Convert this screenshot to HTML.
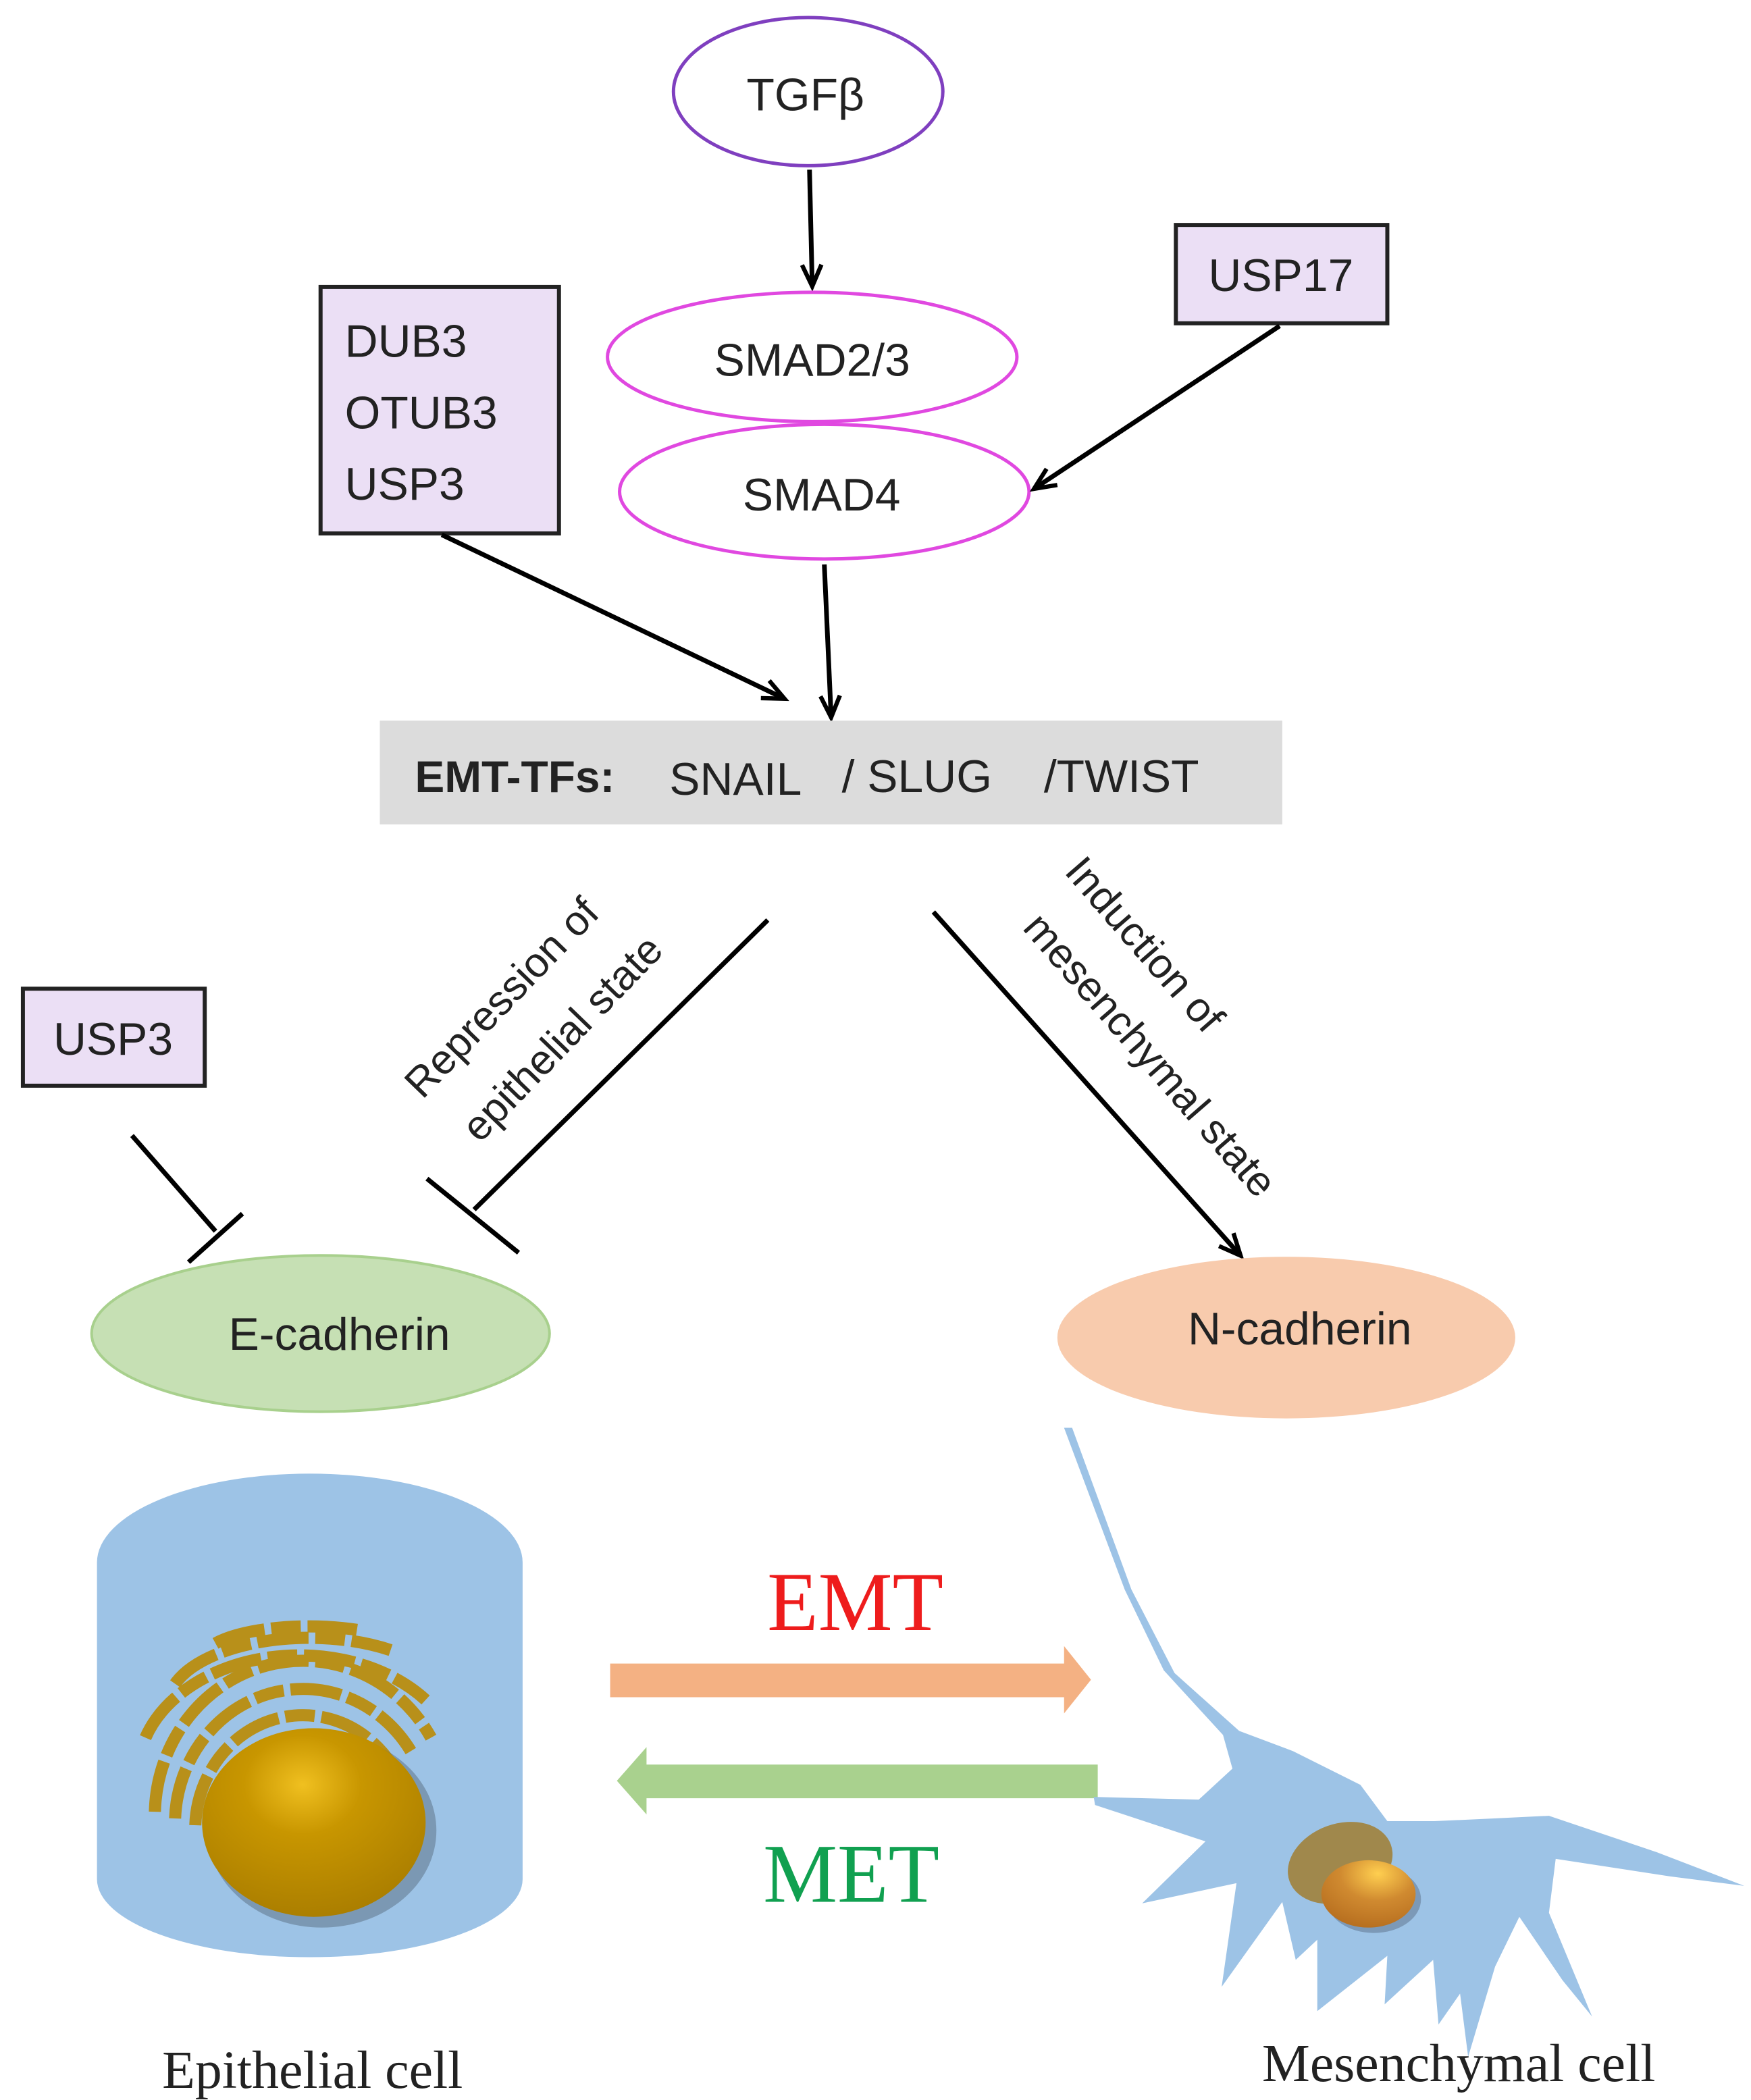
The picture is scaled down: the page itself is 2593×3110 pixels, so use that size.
<!DOCTYPE html>
<html><head><meta charset="utf-8"><style>
html,body{margin:0;padding:0;background:#fff}
svg{display:block}
text{font-family:"Liberation Sans",sans-serif}
.s{font-family:"Liberation Serif",serif}
</style></head><body>
<svg width="2593" height="3110" viewBox="0 0 1300 1559" preserveAspectRatio="none" xmlns="http://www.w3.org/2000/svg">
<defs>
<marker id="ah" viewBox="0 0 10 10" refX="9" refY="5" markerWidth="16" markerHeight="16" orient="auto" markerUnits="userSpaceOnUse" style="overflow:visible">
<path d="M0,0.5 L10,5 L0,9.5" fill="none" stroke="#000" stroke-width="2"/>
</marker>
<radialGradient id="nuc" cx="0.45" cy="0.3" r="0.75">
<stop offset="0" stop-color="#f0c020"/><stop offset="0.35" stop-color="#c89600"/><stop offset="1" stop-color="#a87c00"/>
</radialGradient>
<radialGradient id="nuc2" cx="0.6" cy="0.2" r="0.8">
<stop offset="0" stop-color="#ffcf50"/><stop offset="0.5" stop-color="#d08a30"/><stop offset="1" stop-color="#b87020"/>
</radialGradient>
</defs>

<ellipse cx="600" cy="68" rx="100" ry="55" fill="#fff" stroke="#7f3fbf" stroke-width="2.5"/>
<text x="598" y="82" font-size="34" text-anchor="middle" fill="#222">TGFβ</text>
<line x1="601" y1="126" x2="603" y2="211" stroke="#000" stroke-width="3.5" marker-end="url(#ah)"/>

<ellipse cx="603" cy="265" rx="152" ry="48" fill="#fff" stroke="#e048e0" stroke-width="2.5"/>
<text x="603" y="279" font-size="34" text-anchor="middle" fill="#222">SMAD2/3</text>
<ellipse cx="612" cy="365" rx="152" ry="50" fill="#fff" stroke="#e048e0" stroke-width="2.5"/>
<text x="610" y="379" font-size="34" text-anchor="middle" fill="#222">SMAD4</text>

<rect x="238" y="213" width="177" height="183" fill="#ebdff5" stroke="#222" stroke-width="3"/>
<text x="256" y="265" font-size="34" fill="#222">DUB3</text>
<text x="256" y="318" font-size="34" fill="#222">OTUB3</text>
<text x="256" y="371" font-size="34" fill="#222">USP3</text>

<rect x="873" y="167" width="157" height="73" fill="#ebdff5" stroke="#222" stroke-width="3"/>
<text x="951" y="216" font-size="34" text-anchor="middle" fill="#222">USP17</text>

<line x1="950" y1="242" x2="769" y2="362" stroke="#000" stroke-width="3.5" marker-end="url(#ah)"/>
<line x1="328" y1="397" x2="581" y2="518" stroke="#000" stroke-width="3.5" marker-end="url(#ah)"/>
<line x1="612" y1="419" x2="617" y2="531" stroke="#000" stroke-width="3.5" marker-end="url(#ah)"/>

<rect x="282" y="535" width="670" height="77" fill="#dcdcdc"/>
<text x="308" y="588" font-size="33" font-weight="bold" fill="#222">EMT-TFs:</text>
<text x="497" y="590" font-size="34" fill="#222">SNAIL</text>
<text x="625" y="588" font-size="34" fill="#222">/ SLUG</text>
<text x="775" y="588" font-size="34" fill="#222">/TWIST</text>

<line x1="570" y1="683" x2="352" y2="898" stroke="#000" stroke-width="3.5"/>
<line x1="317" y1="875" x2="385" y2="930" stroke="#000" stroke-width="3.5"/>
<text transform="translate(380,748) rotate(-46)" font-size="31" text-anchor="middle" fill="#222">Repression of</text>
<text transform="translate(425,778) rotate(-46)" font-size="31" text-anchor="middle" fill="#222">epithelial state</text>

<rect x="17" y="734" width="135" height="72" fill="#ebdff5" stroke="#222" stroke-width="3"/>
<text x="84" y="783" font-size="34" text-anchor="middle" fill="#222">USP3</text>
<line x1="98" y1="843" x2="160" y2="914" stroke="#000" stroke-width="3.5"/>
<line x1="140" y1="937" x2="180" y2="901" stroke="#000" stroke-width="3.5"/>

<line x1="693" y1="677" x2="920" y2="931" stroke="#000" stroke-width="3.5" marker-end="url(#ah)"/>
<text transform="translate(842,708) rotate(49)" font-size="31" text-anchor="middle" fill="#222">Induction of</text>
<text transform="translate(846,790) rotate(49)" font-size="31" text-anchor="middle" fill="#222">mesenchymal state</text>

<ellipse cx="238" cy="990" rx="170" ry="58" fill="#c6e0b4" stroke="#a8d08d" stroke-width="2"/>
<text x="252" y="1002" font-size="34" text-anchor="middle" fill="#222">E-cadherin</text>
<ellipse cx="955" cy="993" rx="170" ry="60" fill="#f8cbad"/>
<text x="965" y="998" font-size="34" text-anchor="middle" fill="#222">N-cadherin</text>

<path d="M72,1160 A158,66 0 0 1 388,1160 L388,1395 A158,58 0 0 1 72,1395 Z" fill="#9dc3e6"/>
<g fill="none" stroke="#b8901a" stroke-width="9" stroke-dasharray="38 5 22 5">
<path d="M115,1345 A110,115 0 0 1 320,1290"/>
<path d="M130,1350 A95,100 0 0 1 305,1300"/>
<path d="M145,1355 A80,85 0 0 1 292,1312"/>
<path d="M108,1290 A120,88 0 0 1 316,1262"/>
<path d="M130,1250 A105,50 0 0 1 290,1225"/>
<path d="M160,1220 A80,25 0 0 1 265,1210"/>
</g>
<ellipse cx="239" cy="1359" rx="85" ry="72" fill="#5a6d80" opacity="0.5"/>
<ellipse cx="233" cy="1353" rx="83" ry="70" fill="url(#nuc)"/>

<polygon points="453,1235 790,1235 790,1222 810,1247 790,1272 790,1260 453,1260" fill="#f4b183"/>
<polygon points="815,1310 480,1310 480,1297 458,1322 480,1347 480,1335 815,1335" fill="#a9d18e"/>
<text class="s" x="635" y="1210" font-size="62" text-anchor="middle" fill="#ee1c1c">EMT</text>
<text class="s" x="632" y="1412" font-size="62" text-anchor="middle" fill="#10a050">MET</text>

<path d="M790,1060 L796,1060 L840,1180 L872,1242 L920,1285 L960,1300 L1010,1325 L1030,1352 L1065,1352 L1108,1350 L1150,1348 L1230,1375 L1295,1400 L1240,1393 L1155,1380 L1150,1420 L1182,1497 L1160,1470 L1128,1423 L1110,1460 L1090,1527 L1084,1480 L1068,1503 L1064,1455 L1028,1488 L1030,1452 L978,1493 L978,1440 L962,1455 L952,1412 L907,1475 L918,1398 L848,1413 L895,1367 L813,1340 L812,1334 L890,1336 L915,1313 L908,1288 L864,1240 L835,1180 Z" fill="#9dc3e6"/>
<ellipse cx="995" cy="1383" rx="40" ry="29" transform="rotate(-20 995 1383)" fill="#a0884c"/>
<ellipse cx="1020" cy="1410" rx="35" ry="25" fill="#4a5a70" opacity="0.4"/>
<ellipse cx="1016" cy="1406" rx="35" ry="25" fill="url(#nuc2)"/>

<text class="s" x="232" y="1550" font-size="40" text-anchor="middle" fill="#222">Epithelial cell</text>
<text class="s" x="1083" y="1545" font-size="40" text-anchor="middle" fill="#222">Mesenchymal cell</text>
</svg>
</body></html>
